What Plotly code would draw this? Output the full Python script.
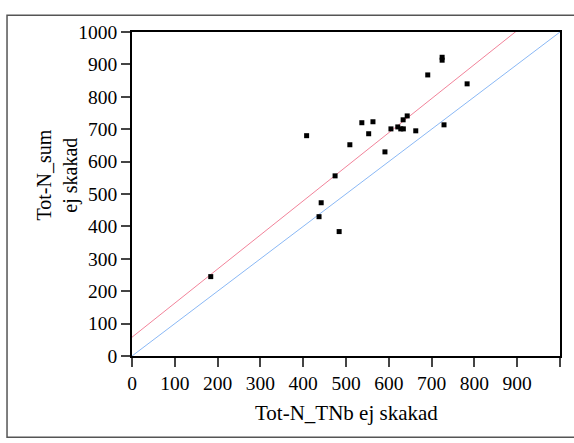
import numpy as np
import plotly.graph_objects as go

# Data
tnb = [184, 408, 437, 442, 474.5, 484, 509, 537, 553, 563, 591, 605, 621, 628, 634,
       633.5, 643, 663, 691, 724.6, 724.6, 729, 783]
nsum = [245, 680, 430, 473, 556, 384, 652, 720, 686, 723, 630, 701, 707, 701, 701,
        729, 741, 695, 867.5, 922, 913, 713.5, 840]

fit_intercept = 58.0
fit_slope = 1.052

x_ticks = [0, 100, 200, 300, 400, 500, 600, 700, 800, 900, 1000]
x_ticktext = ["0", "100", "200", "300", "400", "500", "600", "700", "800", "900", ""]
y_ticks = [0, 100, 200, 300, 400, 500, 600, 700, 800, 900, 1000]

FONT = "Liberation Serif"

line_x = np.array([0.0, 1000.0])

fig = go.Figure()
fig.add_trace(go.Scatter(x=line_x, y=line_x, mode="lines",
                         line=dict(color="#8ab8f5", width=1), hoverinfo="skip"))
fig.add_trace(go.Scatter(x=line_x, y=fit_intercept + fit_slope * line_x, mode="lines",
                         line=dict(color="#f2839a", width=1), hoverinfo="skip"))
fig.add_trace(go.Scatter(x=tnb, y=nsum, mode="markers",
                         marker=dict(symbol="square", size=5, color="black",
                                     line=dict(width=0))))

axis_common = dict(
    showgrid=False, zeroline=False, showline=True, linecolor="black", linewidth=1.5,
    mirror=True, ticks="outside", ticklen=9, tickwidth=1.5, tickcolor="#444",
    tickfont=dict(family=FONT, size=19.5, color="black"),
)

fig.update_layout(
    width=574, height=443,
    margin=dict(l=132, r=14, t=32, b=87),
    paper_bgcolor="white", plot_bgcolor="white",
    showlegend=False,
    xaxis=dict(range=[0, 1000], tickvals=x_ticks, ticktext=x_ticktext, **axis_common),
    yaxis=dict(range=[0, 1000], tickvals=y_ticks, **axis_common),
    shapes=[dict(type="rect", xref="paper", yref="paper",
                 x0=-0.292, x1=1.2, y0=-0.2508, y1=1.0515,
                 line=dict(color="#555", width=1.5), fillcolor="rgba(0,0,0,0)",
                 layer="below")],
    annotations=[
        dict(text="Tot-N_TNb ej skakad", xref="paper", yref="paper",
             x=0.5, y=-0.1747, xanchor="center", yanchor="middle", showarrow=False,
             font=dict(family=FONT, size=21, color="black")),
        dict(text="Tot-N_sum<br>ej skakad", xref="paper", yref="paper",
             x=-0.174, y=0.5585, xanchor="center", yanchor="middle", showarrow=False,
             textangle=-90, font=dict(family=FONT, size=20, color="black")),
    ],
)

fig.write_html("out.html")
